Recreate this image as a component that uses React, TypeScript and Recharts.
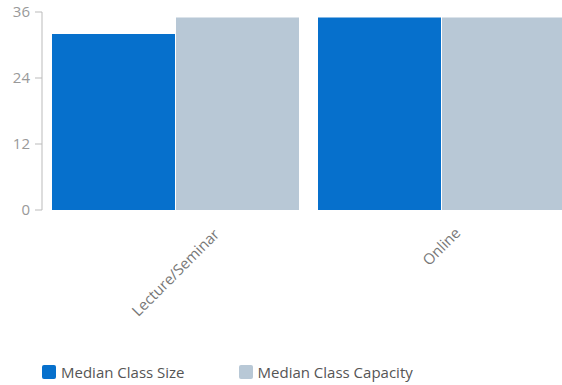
import React from "react";
import { BarChart, Bar, XAxis, YAxis, Legend } from "recharts";

const categories = ["Lecture/Seminar", "Online"];
const medianClassSize = [32, 35];
const medianClassCapacity = [35, 35];
const yTicks = [0, 12, 24, 36];

const SIZE_COLOR = "#0670cc";
const CAPACITY_COLOR = "#b8c8d6";
const FONT = "'Open Sans', Lato, sans-serif";

const data = categories.map((name, i) => ({
  name,
  size: medianClassSize[i],
  capacity: medianClassCapacity[i],
}));

function AngledTick(props: any) {
  const { x, payload } = props;
  const label = String(payload.value);
  const w = label.length * 8.2;
  const cx = x;
  const cy = 224 + (w + 13) * 0.3536;
  return (
    <text
      x={cx}
      y={cy}
      textAnchor="middle"
      dominantBaseline="central"
      fill="#777"
      fontSize={15}
      fontFamily={FONT}
      transform={`rotate(-45 ${cx} ${cy})`}
    >
      {label}
    </text>
  );
}

function LegendContent() {
  const items = [
    { label: "Median Class Size", color: SIZE_COLOR },
    { label: "Median Class Capacity", color: CAPACITY_COLOR },
  ];
  return (
    <div style={{ display: "flex", alignItems: "center", height: 26, paddingLeft: 42 }}>
      {items.map((it) => (
        <div key={it.label} style={{ display: "flex", alignItems: "center", marginRight: 54 }}>
          <span
            style={{
              display: "inline-block",
              width: 14,
              height: 14,
              borderRadius: 2,
              background: it.color,
              marginRight: 5,
            }}
          />
          <span style={{ fontFamily: FONT, fontSize: 15, color: "#555" }}>{it.label}</span>
        </div>
      ))}
    </div>
  );
}

export default function App() {
  return (
    <div style={{ position: "absolute", left: 0, top: 0, width: 562, height: 385, overflow: "hidden", background: "#fff" }}>
      <BarChart
        width={576}
        height={385}
        data={data}
        margin={{ top: 12, right: 2, bottom: 0, left: 0 }}
        barCategoryGap={10}
        barGap={1}
      >
        <YAxis
          width={42}
          domain={[0, 36]}
          ticks={yTicks}
          interval={0}
          tickSize={7}
          tickMargin={5}
          axisLine={{ stroke: "#bbb" }}
          tickLine={{ stroke: "#bbb" }}
          tick={{ fill: "#999", fontSize: 15, fontFamily: FONT }}
        />
        <XAxis
          dataKey="name"
          height={149}
          axisLine={false}
          tickLine={false}
          interval={0}
          tick={<AngledTick />}
        />
        <Legend verticalAlign="bottom" content={<LegendContent />} />
        <Bar dataKey="size" name="Median Class Size" fill={SIZE_COLOR} isAnimationActive={false} />
        <Bar dataKey="capacity" name="Median Class Capacity" fill={CAPACITY_COLOR} isAnimationActive={false} />
      </BarChart>
    </div>
  );
}
